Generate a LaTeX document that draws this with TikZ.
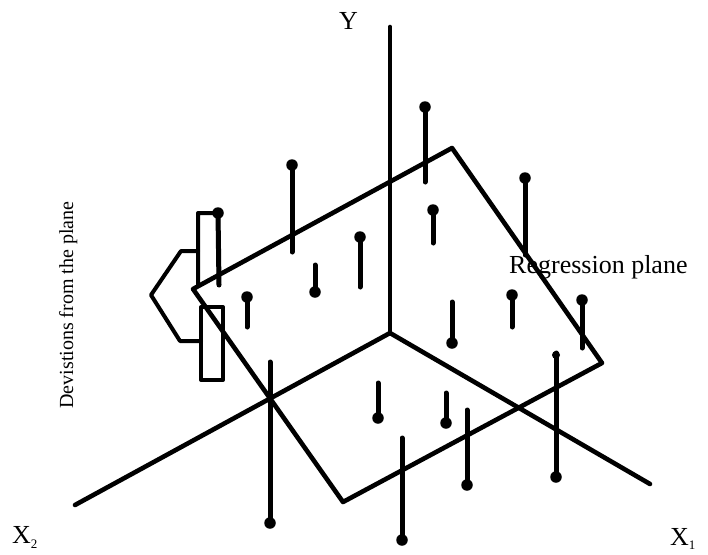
\documentclass[tikz,border=0pt]{standalone}
\usepackage{fontspec}
\setmainfont{Liberation Serif}
\begin{document}
\begin{tikzpicture}[x=1pt,y=-1pt, line join=round, line cap=round,
  axisline/.style={line width=4.6pt},
  planeedge/.style={line width=4.6pt},
  stemline/.style={line width=5pt},
  boxline/.style={line width=4pt},
  dotmark/.style={circle, fill, inner sep=0pt, minimum size=11.5pt},
  capmark/.style={circle, fill, inner sep=0pt, minimum size=8pt},
  lbl/.style={font=\fontsize{26}{30}\selectfont, inner sep=0pt},
  sidelbl/.style={font=\fontsize{20}{24}\selectfont, inner sep=0pt}]
\useasboundingbox (0,0) rectangle (708,554);

% axes
\coordinate (O) at (390,333);
\coordinate (Ytop) at (390,27);
\coordinate (X1end) at (650,484);
\coordinate (X2end) at (75,505);
\draw[axisline] (O) -- (Ytop);
\draw[axisline] (O) -- (X1end);
\draw[axisline] (O) -- (X2end);

% regression plane
\coordinate (PT) at (452,148);
\coordinate (PR) at (602,363);
\coordinate (PB) at (343,502);
\coordinate (PL) at (193,289);
\draw[planeedge] (PL) -- (PT) -- (PR) -- (PB) -- cycle;

% data points: x, dot y, stem end y
\foreach \px/\dy/\ey [count=\i] in {
  292/165/252, 425/107/182, 433/210/243, 360/237/287, 315/292/265,
  247/297/327, 525/178/255, 512/295/327, 452/343/302, 582/300/348,
  556/477/353, 378/418/383, 446/423/393, 467/485/410, 402/540/438,
  270/523/362}{
  \node[dotmark] (p\i) at (\px,\dy) {};
  \coordinate (s\i) at (\px,\ey);
  \draw[stemline] (p\i.center) -- (s\i);
}
\node[capmark] (cap11) at (556,355) {};

% deviations boxes and brace
\node[dotmark] (pb) at (218,213) {};
\coordinate (ub1) at (198,213);
\coordinate (ub2) at (198,285);
\coordinate (ub3) at (219,285);
\draw[boxline] (ub2) -- (ub1) -- (pb.center) -- (ub3);
\draw[stemline] (pb.center) -- (ub3);
\coordinate (lb1) at (201,307);
\coordinate (lb2) at (223,380);
\draw[boxline] (lb1) rectangle (lb2);
\coordinate (br1) at (198,251);
\coordinate (br2) at (181,251);
\coordinate (br3) at (151,295);
\coordinate (br4) at (180,341);
\coordinate (br5) at (201,341);
\draw[boxline] (br1) -- (br2) -- (br3) -- (br4) -- (br5);

% labels
\node[lbl, anchor=base west] (ylab) at (339,29) {Y};
\node[lbl, anchor=base west] (x2lab) at (12,543) {X\raisebox{-5pt}{\fontsize{13}{14}\selectfont 2}};
\node[lbl, anchor=base west] (x1lab) at (670,545) {X\raisebox{-4pt}{\fontsize{13}{14}\selectfont 1}};
\node[lbl, anchor=base west] (rplab) at (509,273) {Regression plane};
\node[sidelbl, rotate=90, anchor=base] (devlab) at (73,305) {Devistions from the plane};
\end{tikzpicture}
\end{document}
